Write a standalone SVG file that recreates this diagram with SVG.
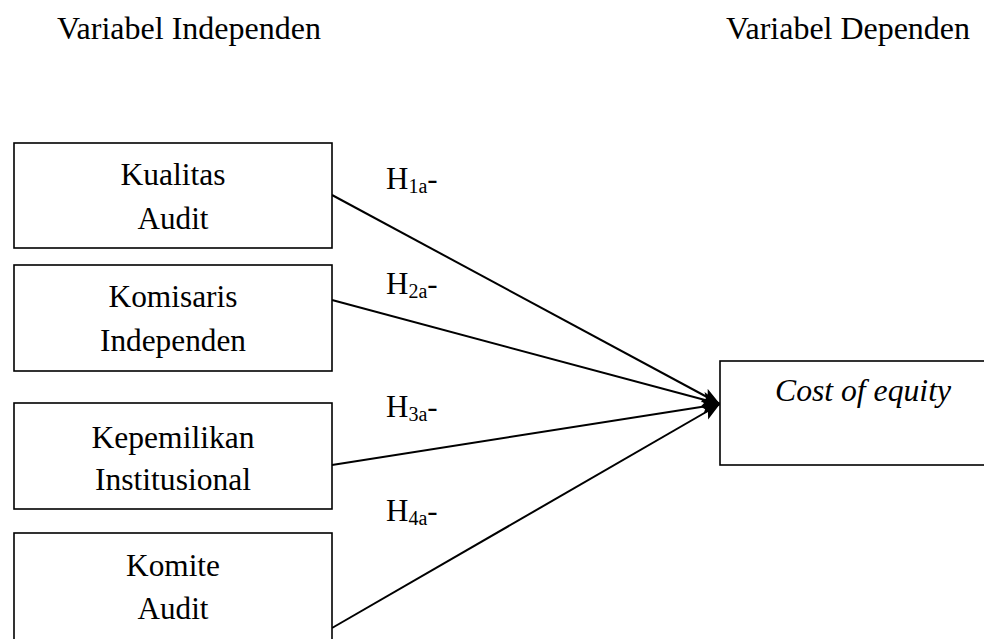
<svg xmlns="http://www.w3.org/2000/svg" width="984" height="639" viewBox="0 0 984 639">
<style>
text{font-family:'Liberation Serif','Times New Roman',Times,serif;font-size:31px;fill:#000}
.c{text-anchor:middle}
.box{fill:#fff;stroke:#000;stroke-width:1.6}
.ln{stroke:#000;stroke-width:2;fill:none;marker-end:url(#ah)}
.sub{font-size:20px}
</style>
<defs>
<marker id="ah" markerUnits="userSpaceOnUse" markerWidth="19" markerHeight="16" refX="18" refY="8" orient="auto">
<path d="M0,0.5 L18,8 L0,15.5 L4,8 z" fill="#000"/>
</marker>
</defs>
<rect width="984" height="639" fill="#fff"/>
<g id="headers">
<text x="57" y="39" textLength="264" lengthAdjust="spacingAndGlyphs">Variabel Independen</text>
<text x="726" y="39" textLength="244" lengthAdjust="spacingAndGlyphs">Variabel Dependen</text>
</g>
<g id="connectors">
<line class="ln" x1="332" y1="195" x2="720" y2="404"/>
<line class="ln" x1="332" y1="300" x2="720" y2="404"/>
<line class="ln" x1="332" y1="465" x2="720" y2="404"/>
<line class="ln" x1="332" y1="628" x2="720" y2="404"/>
</g>
<g id="node-kualitas">
<rect class="box" x="14" y="143" width="318" height="105"/>
<text class="c" x="173" y="185" textLength="105" lengthAdjust="spacingAndGlyphs">Kualitas</text>
<text class="c" x="173" y="229" textLength="71" lengthAdjust="spacingAndGlyphs">Audit</text>
</g>
<g id="node-komisaris">
<rect class="box" x="14" y="265" width="318" height="106"/>
<text class="c" x="173" y="307" textLength="129" lengthAdjust="spacingAndGlyphs">Komisaris</text>
<text class="c" x="173" y="351" textLength="146" lengthAdjust="spacingAndGlyphs">Independen</text>
</g>
<g id="node-kepemilikan">
<rect class="box" x="14" y="403" width="318" height="106"/>
<text class="c" x="173" y="448" textLength="163" lengthAdjust="spacingAndGlyphs">Kepemilikan</text>
<text class="c" x="173" y="490" textLength="156" lengthAdjust="spacingAndGlyphs">Institusional</text>
</g>
<g id="node-komite">
<rect class="box" x="14" y="533" width="318" height="110"/>
<text class="c" x="173" y="576" textLength="94" lengthAdjust="spacingAndGlyphs">Komite</text>
<text class="c" x="173" y="619" textLength="71" lengthAdjust="spacingAndGlyphs">Audit</text>
</g>
<g id="node-cost">
<rect class="box" x="720" y="361" width="270" height="104"/>
<text x="775" y="401" font-style="italic" textLength="176" lengthAdjust="spacingAndGlyphs">Cost of equity</text>
</g>
<g id="labels">
<text x="386" y="189">H<tspan class="sub" dy="4">1a</tspan><tspan dy="-4">-</tspan></text>
<text x="386" y="294">H<tspan class="sub" dy="4">2a</tspan><tspan dy="-4">-</tspan></text>
<text x="386" y="417">H<tspan class="sub" dy="4">3a</tspan><tspan dy="-4">-</tspan></text>
<text x="386" y="521">H<tspan class="sub" dy="4">4a</tspan><tspan dy="-4">-</tspan></text>
</g>
</svg>
